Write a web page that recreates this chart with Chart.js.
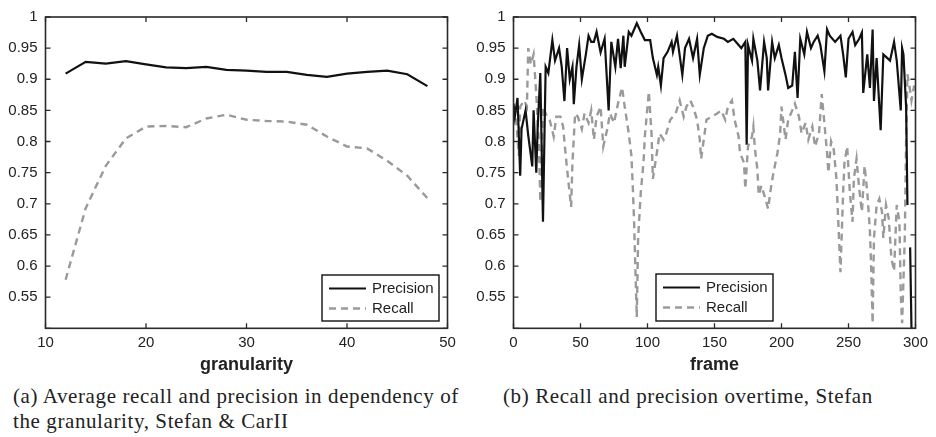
<!DOCTYPE html>
<html><head><meta charset="utf-8">
<script src="https://cdn.jsdelivr.net/npm/chart.js@4.4.0/dist/chart.umd.min.js"></script>
<style>
body{margin:0;background:#fff;width:936px;height:437px;overflow:hidden;position:relative;font-family:"Liberation Sans",Arial,sans-serif}
.wrap{position:absolute;top:0;width:468px;height:380px}
.cap{position:absolute;font-family:"Liberation Serif","Times New Roman",serif;font-size:21px;letter-spacing:0.6px;line-height:25px;color:#222;white-space:nowrap}
</style></head>
<body>
<div class="wrap" style="left:0"><canvas id="c1" width="468" height="380"></canvas></div>
<div class="wrap" style="left:468px"><canvas id="c2" width="468" height="380"></canvas></div>
<div class="cap" style="left:13px;top:384px">(a) Average recall and precision in dependency of<br>the granularity, Stefan &amp; CarII</div>
<div class="cap" style="left:503px;top:384px">(b) Recall and precision overtime, Stefan</div>
<script>
// ---- Chart (a): granularity ----
const granularity = [12,14,16,18,20,22,24,26,28,30,32,34,36,38,40,42,44,46,48];
const granPrecision = [0.909,0.928,0.925,0.929,0.924,0.919,0.918,0.920,0.915,0.914,0.912,0.912,0.907,0.904,0.909,0.912,0.914,0.908,0.889];
const granRecall = [0.578,0.693,0.761,0.805,0.824,0.825,0.823,0.837,0.843,0.835,0.833,0.832,0.827,0.808,0.792,0.789,0.769,0.745,0.709];

// ---- Chart (b): frame ----
const precFrames = [0,1,3,5,6,9,11,14,15,17,18,20,22,24,26,29,31,34,36,38,40,42,44,45,47,49,51,54,56,58,60,62,65,68,71,73,76,78,80,82,83,86,88,90,92,95,98,102,104,107,108,110,112,115,118,119,122,126,128,131,134,137,139,142,145,148,152,157,160,164,168,170,173,174,175,178,179,182,184,187,189,190,193,195,198,200,203,205,208,210,212,214,217,219,222,224,227,229,232,234,236,240,244,246,248,250,253,255,258,260,261,264,266,268,269,271,274,276,279,281,284,286,289,290,291,293,294,295,296,297];
const precValues = [0.861,0.84,0.87,0.745,0.82,0.85,0.81,0.76,0.85,0.75,0.82,0.91,0.671,0.92,0.91,0.963,0.93,0.95,0.92,0.865,0.95,0.90,0.92,0.86,0.92,0.955,0.90,0.94,0.97,0.96,0.96,0.976,0.943,0.965,0.85,0.96,0.92,0.965,0.918,0.97,0.92,0.976,0.97,0.98,0.99,0.976,0.963,0.963,0.934,0.907,0.92,0.89,0.934,0.944,0.96,0.944,0.97,0.907,0.95,0.965,0.934,0.965,0.907,0.95,0.97,0.973,0.968,0.965,0.96,0.965,0.955,0.95,0.96,0.795,0.955,0.93,0.965,0.93,0.882,0.96,0.934,0.882,0.96,0.934,0.955,0.934,0.907,0.886,0.89,0.944,0.87,0.965,0.94,0.976,0.95,0.96,0.97,0.955,0.913,0.98,0.97,0.96,0.97,0.94,0.903,0.965,0.976,0.955,0.965,0.975,0.878,0.94,0.886,0.98,0.865,0.934,0.818,0.94,0.934,0.93,0.96,0.93,0.85,0.95,0.94,0.855,0.698,null,0.63,0.5];
const recFrames = [0,2,4,5,8,10,11,13,15,17,19,20,22,25,27,30,32,35,37,39,41,43,44,46,48,51,53,56,58,60,62,65,67,70,72,75,78,81,83,86,88,89,90,91,92,93,95,97,98,100,101,103,104,107,109,112,114,117,121,124,127,129,132,134,137,139,140,142,144,148,152,155,158,160,163,165,168,169,172,173,175,178,179,180,182,183,185,188,190,192,194,197,199,200,203,205,208,210,213,215,218,220,223,225,228,230,232,234,235,237,239,241,244,246,247,249,251,253,254,256,258,260,262,264,266,267,268,269,271,273,275,276,278,280,282,284,286,288,289,290,292,293,294,296,297,299];
const recValues = [0.856,0.835,0.777,0.856,0.866,0.856,0.95,0.924,0.94,0.876,0.792,0.703,0.856,0.84,0.835,0.808,0.84,0.84,0.824,0.777,0.735,0.695,0.766,0.845,0.84,0.82,0.845,0.83,0.85,0.803,0.84,0.856,0.792,0.82,0.845,0.83,0.861,0.887,0.856,0.813,0.777,0.729,0.671,0.592,0.518,0.645,0.719,0.766,0.808,0.856,0.88,0.813,0.74,0.782,0.813,0.803,0.813,0.835,0.845,0.866,0.84,0.856,0.866,0.856,0.835,0.803,0.772,0.803,0.835,0.84,0.845,0.85,0.835,0.856,0.866,0.835,0.808,0.782,0.766,0.724,0.792,0.808,0.824,0.792,0.755,0.714,0.729,0.708,0.692,0.724,0.75,0.782,0.813,0.856,0.803,0.835,0.85,0.861,0.84,0.813,0.83,0.803,0.824,0.792,0.813,0.876,0.83,0.782,0.75,0.80,0.787,0.74,0.59,0.719,0.766,0.792,0.719,0.671,0.74,0.772,0.724,0.687,0.761,0.719,0.656,0.592,0.508,0.645,0.698,0.708,0.687,0.645,0.698,0.677,0.613,0.592,0.698,0.671,0.555,0.508,0.645,0.803,0.908,0.882,0.866,0.89];

const yTicksMin = 0.5, yTicksMax = 1, yStep = 0.05;
const seriesNames = ['Precision','Recall'];

const FONT = '"Liberation Sans", Arial, sans-serif';
const PREC_STYLE = {borderColor:'#111', borderWidth:2.2};
const REC_STYLE = {borderColor:'#9a9a9a', borderWidth:2.4, borderDash:[7,5]};

function pts(xs, ys){ return xs.map((x,i)=>({x, y: ys[i]})); }

const framePlugin = {
  id:'frameBox',
  afterDatasetsDraw(chart){
    const {ctx, chartArea:a, scales:{x,y}} = chart;
    ctx.save();
    ctx.strokeStyle = '#2a2a2a';
    ctx.lineWidth = 1.3;
    ctx.beginPath();
    const tl = 5;
    x.ticks.forEach(t=>{
      const px = x.getPixelForValue(t.value);
      ctx.moveTo(px, a.bottom); ctx.lineTo(px, a.bottom - tl);
      ctx.moveTo(px, a.top); ctx.lineTo(px, a.top + tl);
    });
    y.ticks.forEach(t=>{
      const py = y.getPixelForValue(t.value);
      ctx.moveTo(a.left, py); ctx.lineTo(a.left + tl, py);
      ctx.moveTo(a.right, py); ctx.lineTo(a.right - tl, py);
    });
    ctx.stroke();
    ctx.lineWidth = 1.6;
    ctx.strokeRect(a.left, a.top, a.right - a.left, a.bottom - a.top);
    ctx.restore();
  },
  afterDraw(chart, args, opts){
    const b = opts.box; if(!b) return;
    const ctx = chart.ctx;
    ctx.save();
    ctx.fillStyle = '#fff';
    ctx.fillRect(b.x, b.y, b.w, b.h);
    ctx.strokeStyle = '#111'; ctx.lineWidth = 1.4;
    ctx.strokeRect(b.x, b.y, b.w, b.h);
    const rows = [b.y + 13.5, b.y + 33.5];
    chart.data.datasets.forEach((ds, i)=>{
      const yy = rows[i];
      ctx.beginPath();
      ctx.strokeStyle = ds.borderColor; ctx.lineWidth = ds.borderWidth;
      ctx.setLineDash(ds.borderDash || []);
      ctx.moveTo(b.x + 7, yy); ctx.lineTo(b.x + 44, yy); ctx.stroke();
      ctx.setLineDash([]);
      ctx.fillStyle = '#222'; ctx.font = '15px ' + FONT;
      ctx.textBaseline = 'middle'; ctx.textAlign = 'left';
      ctx.fillText(ds.label, b.x + 50, yy + 0.5);
    });
    ctx.restore();
  }
};

function fmt(v){
  if (v < yTicksMin + 1e-6) return '';
  return String(Math.round(v*100)/100);
}

function makeChart(id, datasets, xmin, xmax, xstep, xtitle, box){
  return new Chart(document.getElementById(id), {
    type:'line',
    data:{datasets},
    plugins:[framePlugin],
    options:{
      responsive:false, animation:false, devicePixelRatio:1,
      layout:{padding:{left:0, right:20.5, top:13.3, bottom:0}},
      elements:{point:{radius:0}, line:{tension:0}},
      plugins:{legend:{display:false}, tooltip:{enabled:false}, frameBox:{box}},
      scales:{
        x:{type:'linear', min:xmin, max:xmax,
          ticks:{stepSize:xstep, color:'#222', font:{family:FONT, size:15}, padding:6, maxRotation:0, autoSkip:false},
          grid:{display:false, drawTicks:false}, border:{display:false},
          title:{display:true, text:xtitle, color:'#222', font:{family:FONT, size:18, weight:'bold'}, padding:{top:0, bottom:4}},
          afterFit(s){ s.height = 51.7; }
        },
        y:{type:'linear', min:yTicksMin, max:yTicksMax,
          ticks:{stepSize:yStep, color:'#222', font:{family:FONT, size:15}, padding:8, callback:fmt, autoSkip:false},
          grid:{display:false, drawTicks:false}, border:{display:false},
          afterFit(s){ s.width = 45.5; }
        }
      }
    }
  });
}

makeChart('c1', [
  Object.assign({label:seriesNames[0], data:pts(granularity, granPrecision)}, PREC_STYLE),
  Object.assign({label:seriesNames[1], data:pts(granularity, granRecall)}, REC_STYLE)
], 10, 50, 10, 'granularity', {x:322, y:275, w:117, h:46});

makeChart('c2', [
  Object.assign({label:seriesNames[0], data:pts(precFrames, precValues)}, PREC_STYLE),
  Object.assign({label:seriesNames[1], data:pts(recFrames, recValues)}, REC_STYLE)
], 0, 300, 50, 'frame', {x:188, y:274, w:117, h:47});
</script>
</body></html>
